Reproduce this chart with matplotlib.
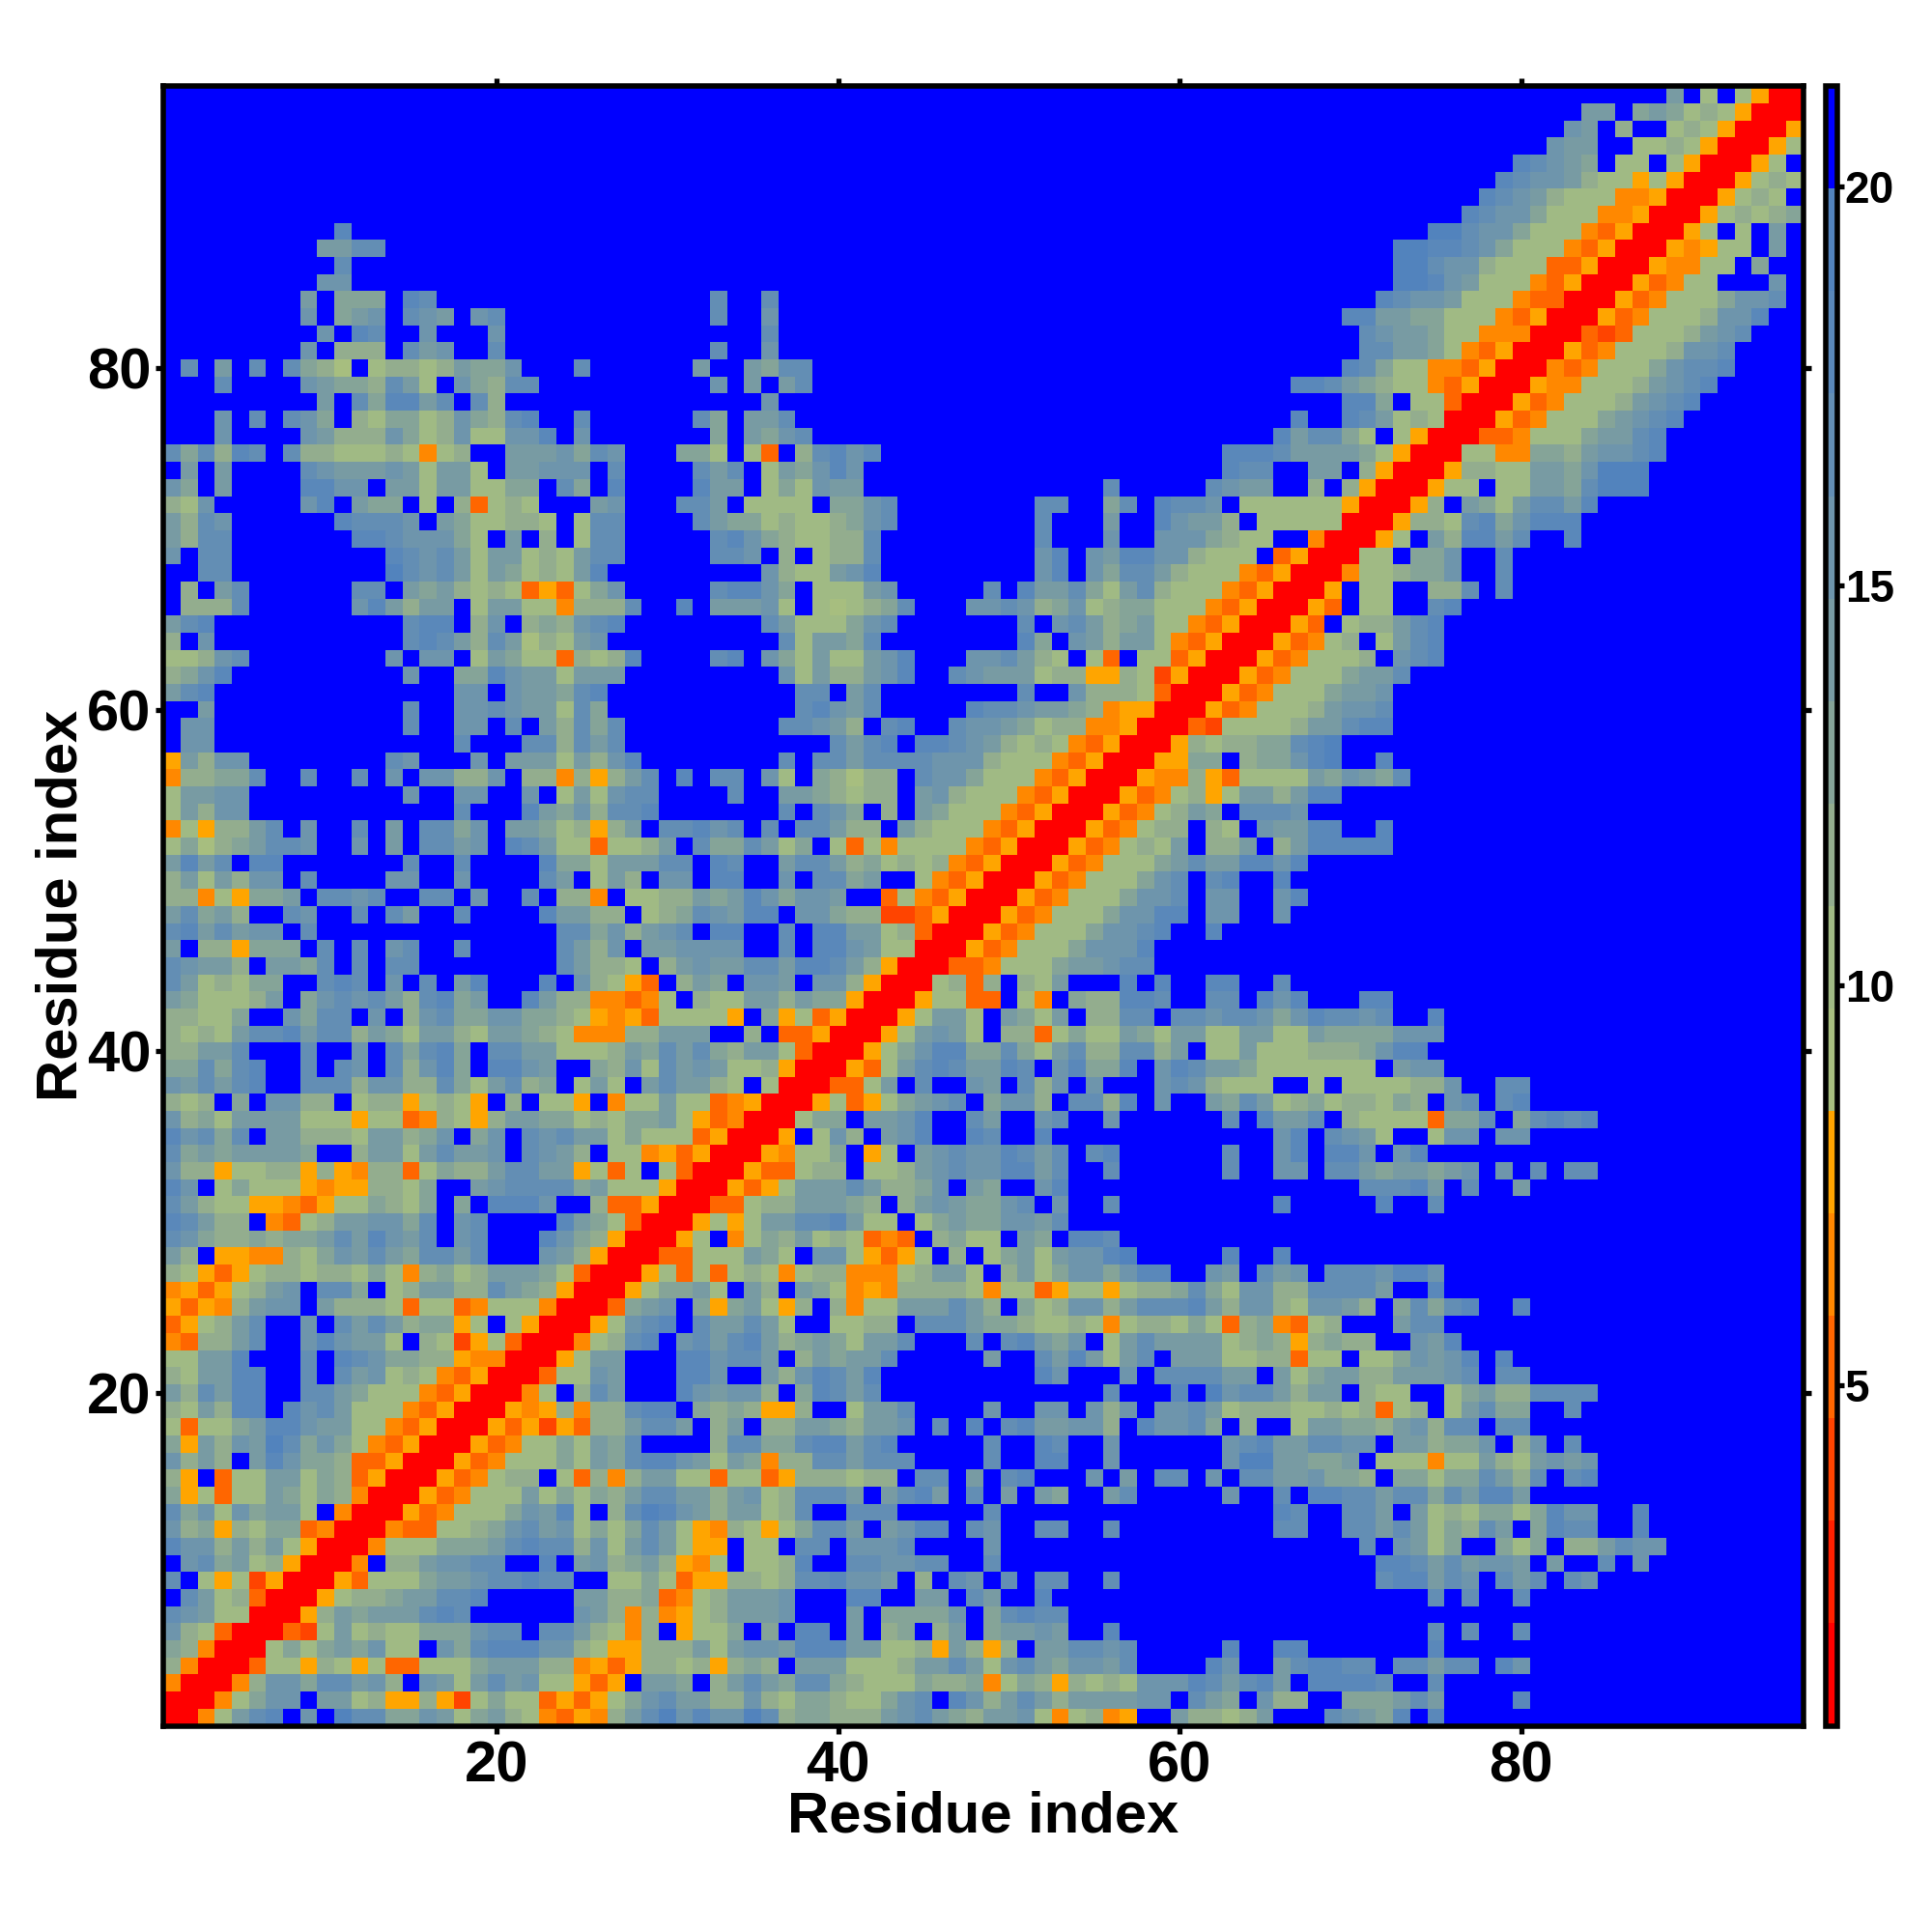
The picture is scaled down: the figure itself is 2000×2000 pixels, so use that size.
import matplotlib
matplotlib.use("Agg")
import matplotlib.pyplot as plt
import numpy as np
from matplotlib.colors import ListedColormap, BoundaryNorm

plt.rcParams['font.family'] = ['Liberation Sans', 'DejaVu Sans']
plt.rcParams['font.weight'] = 'bold'

# Each row is "startcolumn:levels"; a level is one hex digit giving the colour band,
# and every cell that is not listed is band f (the blue, above 20).
rows_96_to_81 = [
"89:af7f7500",
"84:aaf9a97875000",
"83:baf8ff78750005",
"82:baaff7787500057",
"80:dcba9f77f7500057f",
"79:dcbba8775750005787",
"78:dcba87774450005787f",
"77:dcbb9777445000578789",
"11:d 75:eecbb977743500057f7faf",
"10:aacc 73:eeddcb977743500054577faf",
"11:c 73:eecbb877733500054477f9ff",
"10:bb 73:eedba77743500053477fffbf",
"9:a 11:999 15:dc 33:c 36:c 72:dcbba7774330005347779bbc",
"9:b 11:9ab 15:cba 19:bc 33:c 36:b 70:ddaa997774350005347778bbd",
"10:b 12:dc 16:b 20:b 36:c 71:cbaa9774440003237778abc",
"9:b 11:888 15:cab 20:c 33:c 36:b 71:ccaa974350005347778bbc",
]
rows_80_to_65 = [
"2:c 4:a 6:c 8:c986 13:78878a99b 25:c 32:a 35:a9cc 70:dc97744350004347779bccd",
"4:c 9:ba998ca7 18:b98cc 33:b 35:a 37:ac 67:ddca98774350005447778abcd",
"10:a 12:c9ddac 19:c8 36:b 70:dd9f7730005347778abcd",
"4:b 6:c 8:cb9 12:879978b98cd 25:c 32:c9 35:aac 67:d 70:dca7870005347779abcd",
"4:b 9:ba888b978b77bbd 25:b 33:9 35:a9bc 66:dacc97f750003347779aacd",
"1:c9c8dc 8:c8877787478 21:aaab9cb 31:997 35:73f8cdbc 63:dddcaaaa9750007744998abbcd",
"2:a 4:a 9:cbaaaba7aa7 21:aabbb 27:c 32:cac 36:7a9bdb 63:dccffaaf8500058877aa9beee",
"1:b9 4:a 9:ddbb 14:aa7aa7799 24:c9 27:d 32:daa 36:797baa 56:c 62:cb 64:aaff8f85000577f77aa9ceee",
"1:87b 9:bd 12:a99 16:7 18:83787 26:ab 31:cca 35:7777 40:99bc 52:cc 56:9c 59:dccb 64:777777500058fa97accad",
"1:a8cb 11:dcccb 17:a977887 25:7cc 32:ca99787789bc 52:c 56:a 59:dbaa8 65:777770005887cd9bddd",
"1:a8cc 12:ddcbbb97 21:a 23:8 25:7cc 33:cd 35:b987788c 52:c 56:b 59:bbb9877 68:400057fa8ddac 83:d",
"1:b 3:cc 14:dcbca7aa787acc 33:ccb 37:8 39:788c 52:bd 55:baddbb8777 66:3500077f99b 79:c",
"3:cc 14:ecbca7a9787ad 36:b877abd 52:bd 55:b9cca8777 64:435000477899b 79:c",
"2:8 4:ac 12:cc 15:a9a878735379b 33:cddb9 39:777ab 49:c 51:daac97ac8777 63:4350005f77ff88c 79:c",
"2:888c 12:bda8aa 19:7aa774888c 31:d 33:aaab7 39:76789c 48:bbcb89b7899777 62:43500053f77ffcd",
"1:acd 15:cdd 19:8b 22:898bcd 36:ca7779bc 51:c 53:bca89a7743500053f788acd",
]
rows_64_to_49 = [
"1:8 3:b 15:cdca8ca687ab 37:c7aa9c 51:d9 54:ba8aa743500053478f7acd",
"1:778bc 14:b 16:bb 19:7a9773878d 33:cd 36:b97a77abd 48:bbca87f73f77350005347778fbcd",
"1:89bd 15:b 18:99dbaa7aaa 37:b7a88abd 47:cbaaa7885587250005347779aac",
"1:acd 18:bb 21:baa9cd 38:cc 41:ac 51:c 54:b888730005347779aab",
"3:a 15:c 18:bbcbaa7c9 38:cdbac 48:dccbaa984550005347778abbc",
"2:bb 15:c 18:bb 21:c 23:a8c9c 37:ccba8 43:cd 47:cbba97884450003277778aacdd",
"2:bb 18:c 22:cc8cac 40:cacd 45:ddcba87874350005878899cde",
"1:5a8bb 14:cb 19:b 21:aaa7a8bd 37:c 39:ccaccccbbb87774350005599f899bde 72:d",
"1:48899c 9:c 12:c 14:b 16:bb88b 22:884858ac 31:d 33:cc 36:b7 39:98688 45:cbb97774350005448537777a9ba9c",
"1:7aabb 15:b 18:bb 22:b 24:7a7bcc 34:c 37:aa98788 45:ab87774350005347857aa8add",
"1:7a8bb 18:c 22:da9b8ccd 37:c 39:cb9 43:8 45:a977743500053478a9fcccb",
"1:47588ac 9:b 12:c 14:a 16:cc9b 21:aa97858a 30:ccdbc 36:c 38:cca88 44:a8777435000534788f87fbaadd 72:d",
"1:79689accb 12:b 14:a 16:ccab 21:dca773778a 32:c99ca79 40:73747777435000534787af88af8addddd",
"1:adac 6:dd 15:c 18:c 23:d997aaacc 33:dc 37:acca8978784350005347779acaaddbd",
"1:8a7a8bb 9:c 14:bb 18:b 23:ca 26:7a8 30:bb 33:dd 37:b 39:cc9a 45:74350005347779bcfcd 66:d",
"1:8847599a 10:ccbc 16:cc 19:b 22:c 24:884 28:7788a9adb9bba 43:374350005347779bbcfbb 66:bd",
]
rows_48_to_33 = [
"1:ac9a8 8:cb 12:c 14:ca 18:c 23:daa88 29:789cba 35:dd 38:bb98822350005347779bbddfbb 66:b",
"1:cdacabb 9:c 24:cc9b8abc 33:dd 37:c 39:ddaa7830005347779bbcd 62:d",
"1:a 3:885999 10:c 12:c 14:bc 18:c 24:ca8b 29:aabbbb 37:c 39:ddba770005347779bbbd",
"1:cbaa8 7:aa9c 12:c 14:cc 24:ca887 30:8abaaccaddca8 43:50003347779aabcc",
"1:ca78799 10:cdc 14:b 16:c 18:ad 23:d 25:b8753 31:8a9 35:bba 39:bb850007838f87a 57:d 59:d 62:dd 66:c",
"1:a97778a 9:9bcbca8cd9a 22:da8844347 32:877aa8a99500057733f74f988ddc 62:cc 65:dbd 71:dd",
"1:88779 8:b9cc 13:b 15:8bc99bb9987 26:545377775 36:9573500057aa7fa97af88cc 60:ccbccb9bdccbc 75:d",
"1:8787accdacc8a97aa87aa9874 26:4488aaa 35:8 37:33500057aba7f8837977a97aa77aa77a9999bbb",
"1:88aac 9:c 12:b 14:c9cd9 20:ccaa7778a9cac98aa73000579bdd99c97ac88cc8a 62:77a7778889bdd",
"1:99c9cd 9:c 11:cb 14:c8bd9 20:ddba 26:98b7caba7785000537acdcaadc 53:bd99d 59:bdcaa97777777 73:abb",
"1:bacacd 9:ccc8bb88c97ac89 25:7a7 29:acaa87 36:7000337a 45:c 48:ba 51:c8b 55:b 59:bcb8777 68:7 70:777788b 79:cc",
"1:878 5:9 7:bb88 12:78857875 21:8 23:775 27:477a77345000573579abc 49:9bb8 54:cc8d 59:b 62:a9ca789788798 76:bc 79:cd",
"1:b897aaaa777577348758aa9978799a7534000 38:799 42:aabd 48:ca 52:bc 56:b 63:c 65:daac 70:87777399c 80:9cdcd",
"1:dbc9c 7:aa8887aa89b 19:9b 22:cbcaa79777350005 39:7b8 43:abd 48:dc 52:d 66:bd 69:cba7 75:7bb 79:bb",
"1:c9a9aaaa9 12:8aa7acaab 22:cba8 27:77453500054779 42:57 45:abcbbdcac 55:cd 63:c 66:bd 69:ddb 73:bd",
"1:b885778858548837988accaa5737 30:73000533788 42:778abcbbddac 56:c 63:c 66:bb 69:cca9aa9ab 79:b 81:c 83:cc",
]
rows_32_to_17 = [
"1:db 4:79777545588 15:79 19:abcccc9a777 30:50005357aaaca889b 48:a9 52:bd 71:cccda 77:c 80:a",
"1:ca87755435779879 18:9 20:dddb 26:833500033788aaa98 44:8aba99bc 53:b 56:c 66:d 72:d 75:c",
"1:dca88 7:43 9:78aabb9c 18:bc 24:da9730005757aaccda77 45:79a99bbac",
"1:cb9889899acadbac 18:bc 23:db98500057f4798a787343 46:8977 51:a9 54:ddc",
"1:a8 4:5544879baca9ccac 23:ba8500033777a97 39:bb75357 47:8 49:79a7abbde 63:d 66:d",
"1:8753578878879748978aaa97300057373787478844478aa7 50:8a79bb9bdd 62:ba 65:cab 69:cccbddb",
"1:453578ab 10:cc9 14:78aa88ca9850005799a7 35:a8 38:a9745488887477357757889c97bb88cccca 75:d",
"1:53548abb 10:a888737734777400039ab 32:959a758 40:8477aaaca8 51:978bb8acccda8bb87bba8 73:9c9cd 80:d",
"1:3578ac 9:b 11:caca89957 21:7500057bcd 32:caaca7 40:7788 45:ccca998778747887973894378 73:acc",
"1:4388ac 9:bdbaa7 16:872573000478cd 31:bcacda89a97aac 48:c 50:cda9b 56:7acaaaa789858988 74:bad",
"1:77aad 9:c 11:dcb998854400057aa 31:ddbcca 38:8a9aac 49:a 52:cada7ac 60:aaa7788377 71:779babd 79:d",
"1:87aadd 9:c 11:cab787435000377ba 31:ddb 36:a8bdcad 52:db 57:b 59:ccccaa 66:a79aa88aaabc 79:cc",
"1:a8cadd 9:cca977743500047 25:8ca 31:dbabb8 38:9dcac 56:c 60:d 62:ebcca8aa 71:877 76:79a88cccc",
"1:87a8dd 8:dbca7774350005458488cdd 32:9898558 41:7aac 49:b 52:bb 55:b8b 59:bbca788877878378 76:7ac99 83:c",
"1:73779addbaa7743500053525388acca 33:8a 36:88aa98aab 46:c 48:d 50:cdaabb8 58:dbbc9 64:8 67:7aa998ab8 76:cc 79:cc",
"1:95a8baec9b974350005347797a9c 33:8cc99cddacd 49:c 52:dc 56:b 63:bcdaaccbb 73:aa899b 80:8b 83:c",
]
rows_16_to_1 = [
"1:b8a8 6:adb99833500053477797a9cddba7a9488ccaccc 49:c 52:dd 56:b 63:beeaa99a 72:777477a87abab",
"1:85 4:377aa79835000534788 24:73848aa7737735888788 45:cc 48:a 50:cd 55:b 57:a 59:cc 62:b 64:ccaab998 73:99799ca8c 83:cd",
"1:957377a97984000534777a79798accaa8ab78ccca 43:acda 48:c 50:a 52:a9 56:ac 63:b 66:c 68:ddccacc9cadda",
"1:c9b7b9aa7 11:40005347779bad7 27:8cedba8aa78c 41:ccc 49:c 66:dc 70:cca 74:a7879979dbb 87:d",
"1:b8958799340004337789bcab 25:7979ca75487579cca 43:abdd 48:cb 52:cc 56:c 66:cc 70:ccaca798ca 81:9dcc 87:d",
"1:dbb8a8a75 10:0004777999acdcc8b7aca755 35:77 38:cc 41:bbbc 49:b 71:c 73:ba79 79:979 83:88acbb",
"2:bc9a785 9:0004 14:88abbcc 23:d 25:ab89a8547 35:778d 41:ccbbcc 49:c 72:ddcacabba 82:a 85:c 87:b",
"1:c 3:75725000537779aabccdcc 27:77973558878ccdbba 45:8 47:cb 50:c 52:cc 56:c 72:cddacb 79:cac 83:cb",
"2:ca78300057889aaccd 25:aa8893478aaab 41:dd 45:aa 48:ca 52:d 75:c 77:c 80:c",
"1:cba7700058a9aaacdc 25:ba8484578aaab 41:a 43:9999b 49:9cdcc",
"1:b873000327a7877999bcc 23:cca8748 31:5779 36:9 38:dd 41:a 43:89 46:8a 49:9aaba 56:d 75:c 77:c 80:c",
"1:9840007979a9b77 17:b9cdddbb8755888a7abbadddaa7785a858 52:aaccbc 63:d 66:dd 75:d",
"1:8400037758757337779aaa88453588785898 38:aaa7778aaca7bca9bbac 62:db 66:acddcc 73:ccacc 79:db",
"1:400048bb9ccab8 16:ba7acab77535 29:aa9 33:8aca9cc987779889479858787bbbdcacda 68:ddddc 75:c",
"1:000479bb 10:aa78558527977353579bcaa88b87998779bc 47:db8aca8aaaabb 61:ca9 65:b88 70:999aca 80:d",
"1:0047acd 9:b 11:ecc99ba79a8743548acebdbbec899888abca98aab747845 60:a8878a 69:cba9d 75:d",
]

all_rows = rows_96_to_81 + rows_80_to_65 + rows_64_to_49 + rows_48_to_33 + rows_32_to_17 + rows_16_to_1
N = 96
band = np.full((N, N), 15, dtype=int)
for i, row in enumerate(all_rows):
    r = N - 1 - i
    for tok in row.split():
        st, s = tok.split(":")
        st = int(st) - 1
        band[r, st:st + len(s)] = [int(ch, 16) for ch in s]

vmin, vmax = 0.735, 21.25
step = (vmax - vmin) / 16
values = vmin + (band + 0.5) * step

palette = ["#ff0000", "#ff2000", "#ff4400", "#ff6600", "#ff8800", "#ffa500",
           "#a7be7f", "#a0ba84", "#93ad8e", "#85a498", "#789ba3", "#6e95ac",
           "#638eb4", "#5a88ba", "#5283bd", "#0000ff"]
cmap = ListedColormap(palette)
norm = BoundaryNorm(vmin + np.arange(17) * step, 16)

ticks_main = [20, 40, 60, 80]
ticks_cbar = [5, 10, 15, 20]

fig = plt.figure(figsize=(20, 20), dpi=100)
PX = 2000.0
ax = fig.add_axes([169.2 / PX, (PX - 1786.5) / PX, 1697.3 / PX, 1697.3 / PX])
im = ax.pcolormesh(np.arange(0.5, 97), np.arange(0.5, 97), values, cmap=cmap, norm=norm, linewidth=0, rasterized=True)
ax.set_xlim(0.5, 96.5)
ax.set_ylim(0.5, 96.5)
ax.set_xticks(ticks_main)
ax.set_yticks(ticks_main)
ax.tick_params(axis='x', which='major', direction='out', length=5.8, width=3.8, top=True, labelsize=43, pad=5)
ax.tick_params(axis='y', which='major', direction='out', length=5.8, width=3.8, right=True, labelsize=43, pad=3.5)
for s in ax.spines.values():
    s.set_linewidth(4.0)
for lab in ax.get_xticklabels() + ax.get_yticklabels():
    lab.set_fontweight('bold')
ax.set_xlabel("Residue index", fontsize=43, fontweight='bold', labelpad=-2.5)
ax.set_ylabel("Residue index", fontsize=43, fontweight='bold', labelpad=-1)

cax = fig.add_axes([1889.5 / PX, (PX - 1786.5) / PX, 12 / PX, 1697.3 / PX])
cb = fig.colorbar(im, cax=cax, ticks=ticks_cbar, spacing='proportional', drawedges=False)
cb.outline.set_linewidth(4.0)
cb.ax.minorticks_off()
cb.ax.set_yticks(ticks_cbar)
cb.ax.set_yticklabels([str(t) for t in ticks_cbar])
cb.ax.tick_params(axis='y', direction='out', length=5, width=3.8, labelsize=33, pad=1)
for lab in cb.ax.get_yticklabels():
    lab.set_fontweight('bold')

fig.savefig("out.png", dpi=100, facecolor='white')
